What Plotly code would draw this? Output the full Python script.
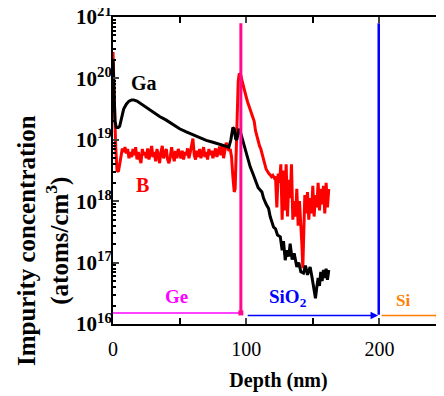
import plotly.graph_objects as go

# ---- data (depth in nm, log10 of concentration in atoms/cm^3) ----
ga_depth = [0, 0.8, 1.5, 2.5, 4, 5, 6, 7, 8, 10, 12, 14, 15.5, 18, 20, 23, 26, 30, 35, 40,
            45, 50, 55, 60, 65, 70, 75, 80, 84, 87, 88.5, 90, 91, 92, 93, 94.5, 96, 98, 100,
            103, 105, 107, 109, 111.8, 113, 115, 116.8, 118, 120.5, 122, 123.5, 125.6, 127,
            128, 129.3, 130.5, 132, 133, 134.5, 136, 138, 139.5, 141, 143, 144.5, 146, 148,
            149.5, 151, 152, 153, 154, 155, 156, 157, 158, 159, 160, 161, 162]
ga_log = [20.3, 19.8, 19.3, 19.2, 19.2, 19.22, 19.3, 19.42, 19.5, 19.58, 19.63, 19.65, 19.65,
          19.63, 19.6, 19.56, 19.51, 19.45, 19.38, 19.32, 19.25, 19.18, 19.13, 19.08, 19.03,
          18.99, 18.96, 18.93, 18.9, 18.88, 19.0, 19.2, 19.18, 19.02, 19.0, 19.18, 19.1, 18.94,
          18.8, 18.56, 18.45, 18.33, 18.22, 18.15, 18.05, 17.95, 17.88, 17.75, 17.58, 17.55,
          17.45, 17.42, 17.2, 17.35, 17.04, 17.2, 17.1, 17.31, 17.05, 17.15, 16.93, 17.0, 16.85,
          16.83, 16.95, 16.8, 16.93, 16.75, 16.55, 16.42, 16.6, 16.75, 16.62, 16.85, 16.7, 16.88,
          16.75, 16.9, 16.72, 16.88]

b_depth = [0, 1, 2, 3, 4, 5, 6, 7, 8, 9, 10, 11, 12, 13, 14, 15, 16, 17, 18, 19, 20, 21, 22,
           23, 24, 25, 26, 27, 28, 29, 30, 31, 32, 33, 34, 35, 36, 37, 38, 39, 40, 41, 42, 43,
           44, 45, 46, 47, 48, 49, 50, 51, 52, 53, 54, 55, 56, 57, 58, 59, 60, 61, 62, 63, 64,
           65, 66, 67, 68, 69, 70, 71, 72, 73, 74, 75, 76, 77, 78, 79, 80, 81, 82, 83, 84, 85,
           86, 87, 88, 89, 90, 91, 91.7, 92.5, 93.2, 94, 94.8, 96, 97, 98, 99, 100, 101, 102,
           103, 104, 105, 106, 107, 108, 109, 110, 111, 112, 113, 114, 115, 116, 117, 118, 119,
           120, 121, 122, 123, 124, 125, 126, 127, 128, 129, 130, 131, 132, 133, 134, 135, 136,
           137, 138, 139, 140, 141, 141.8, 142.5, 143, 144, 145, 146, 147, 148, 149, 150, 151,
           152, 153, 154, 155, 156, 157, 158, 159, 160, 161, 162]
b_log = [20.43, 19.6, 18.9, 18.5, 18.48, 18.6, 18.75, 18.86, 18.8, 18.88, 18.78, 18.85, 18.7,
         18.8, 18.72, 18.85, 18.75, 18.88, 18.68, 18.8, 18.7, 18.62, 18.85, 18.75, 18.8, 18.7,
         18.86, 18.68, 18.78, 18.9, 18.72, 18.8, 18.65, 18.85, 18.75, 18.62, 18.8, 18.9, 18.7,
         18.78, 18.85, 18.68, 18.62, 18.72, 18.88, 18.75, 18.65, 18.82, 18.7, 18.85, 18.78,
         18.7, 18.82, 18.68, 18.8, 18.75, 18.86, 18.7, 18.8, 18.9, 19.02, 18.75, 18.68, 18.82,
         18.72, 18.85, 18.7, 18.78, 18.88, 18.72, 18.8, 18.68, 18.85, 18.75, 18.82, 18.7,
         18.78, 18.86, 18.72, 18.8, 18.89, 18.75, 18.92, 18.7, 18.85, 18.95, 18.89, 18.82,
         18.85, 18.72, 18.4, 18.15, 18.2, 18.9, 19.5, 19.95, 20.08, 20.05, 19.95, 19.88, 19.8,
         19.7, 19.62, 19.55, 19.5, 19.42, 19.36, 19.3, 19.15, 19.05, 18.95, 18.9, 18.85, 18.75,
         18.7, 18.6, 18.52, 18.48, 18.45, 18.43, 18.4, 18.42, 18.38, 18.4, 17.9, 18.45, 18.3,
         18.6, 17.7, 18.5, 17.85, 18.6, 17.75, 18.35, 18.05, 18.6, 17.7, 18.0, 17.75, 18.2,
         17.6, 18.0, 17.7, 17.3, 16.91, 17.5, 18.1, 17.8, 18.15, 17.7, 18.05, 17.8, 18.25,
         17.75, 18.1, 17.9, 18.3, 17.85, 18.2, 17.95, 18.25, 17.8, 18.3, 17.9, 18.2, 17.6]

interface_ge_sio2 = 96
interface_sio2_si = 199.5
layer_bar_log = 16.18
marker_top_log = 20.9

ytick_exp = [16, 17, 18, 19, 20, 21]
xtick_vals = [0, 100, 200]

FONT = "Liberation Serif"
PAGE_OFFSET = 8  # default body margin of the html page


def conc(v):
    return 10.0 ** v


fig = go.Figure()
fig.add_trace(go.Scatter(x=b_depth, y=[conc(v) for v in b_log], mode="lines",
                         line=dict(color="#ff0000", width=3), showlegend=False))
fig.add_trace(go.Scatter(x=ga_depth, y=[conc(v) for v in ga_log], mode="lines",
                         line=dict(color="#000000", width=3), showlegend=False))

# layer boundary lines
fig.add_trace(go.Scatter(x=[interface_ge_sio2, interface_ge_sio2],
                         y=[conc(layer_bar_log), conc(marker_top_log)], mode="lines",
                         line=dict(color="#ff0a8c", width=3), showlegend=False))
fig.add_trace(go.Scatter(x=[interface_sio2_si, interface_sio2_si],
                         y=[conc(16.15), conc(marker_top_log)], mode="lines",
                         line=dict(color="#0000ff", width=2.5), showlegend=False))
# Ge layer bar
fig.add_trace(go.Scatter(x=[0, interface_ge_sio2], y=[conc(layer_bar_log)] * 2,
                         mode="lines", line=dict(color="#ff00ff", width=1.5), showlegend=False))
fig.add_trace(go.Scatter(x=[interface_ge_sio2], y=[conc(layer_bar_log)], mode="markers",
                         marker=dict(color="#ff0a8c", size=5, symbol="square"), showlegend=False))

PLOT_L, PLOT_T, PLOT_W, PLOT_H = 113 - PAGE_OFFSET, 17 - PAGE_OFFSET, 331, 307

annotations = [
    dict(x=interface_sio2_si - 0.5, y=16.14, ax=100, ay=16.14, xref="x", yref="y",
         axref="x", ayref="y", showarrow=True, arrowhead=2, arrowsize=1, arrowwidth=1.5,
         arrowcolor="#0000ff", text=""),
    dict(x=248, y=16.14, ax=200.5, ay=16.14, xref="x", yref="y",
         axref="x", ayref="y", showarrow=True, arrowhead=2, arrowsize=1, arrowwidth=1.5,
         arrowcolor="#ff8000", text=""),
    dict(x=23, y=19.92, text="<b>Ga</b>", showarrow=False, font=dict(size=20, color="black", family=FONT)),
    dict(x=22, y=18.26, text="<b>B</b>", showarrow=False, font=dict(size=20, color="#ff0000", family=FONT)),
    dict(x=47.5, y=16.44, text="<b>Ge</b>", showarrow=False, font=dict(size=19, color="#ff00ff", family=FONT)),
    dict(x=131.5, y=16.42, text="<b>SiO<sub>2</sub></b>", showarrow=False, font=dict(size=19, color="#0000ff", family=FONT)),
    dict(x=218, y=16.38, text="<b>Si</b>", showarrow=False, font=dict(size=17, color="#ff8000", family=FONT)),
    dict(x=(43 - 113) / PLOT_W, y=(324 - 241) / PLOT_H, xref="paper", yref="paper", textangle=-90,
         text="<b>Impurity concentration<br>(atoms/cm<sup>3</sup>)</b>", showarrow=False,
         xanchor="center", yanchor="middle",
         font=dict(size=25, color="black", family=FONT)),
]

minor_vals = [m * conc(e) for e in ytick_exp[:-1] for m in range(2, 10)]

fig.update_layout(
    width=444, height=396,
    margin=dict(l=PLOT_L, r=444 - PLOT_L - PLOT_W, t=PLOT_T, b=396 - PLOT_T - PLOT_H, autoexpand=False),
    paper_bgcolor="white", plot_bgcolor="white",
    font=dict(family=FONT, color="black"),
    annotations=annotations,
    xaxis=dict(range=[0, 248.5], tickvals=xtick_vals, ticks="inside", ticklen=6, tickwidth=2,
               showline=True, linewidth=2, linecolor="black", mirror="ticks",
               showgrid=False, zeroline=False, automargin=False,
               tickfont=dict(size=20, family=FONT), ticklabelstandoff=6,
               tickprefix="<b>", ticksuffix="</b>", ticklabeloverflow="allow",
               minor=dict(tickvals=[50, 150], ticks="inside", ticklen=6, tickwidth=2, tickcolor="black"),
               title=dict(text="<b>Depth (nm)</b>", font=dict(size=20, family=FONT), standoff=14)),
    yaxis=dict(type="log", range=[16, 21], tickvals=[conc(e) for e in ytick_exp],
               ticktext=[f"<b>10<sup>{e}</sup></b>" for e in ytick_exp],
               ticks="inside", ticklen=6, tickwidth=2, ticklabelstandoff=-5,
               showline=True, linewidth=2, linecolor="black", mirror="ticks",
               showgrid=False, zeroline=False, automargin=False, ticklabeloverflow="allow",
               tickfont=dict(size=21, family=FONT),
               minor=dict(tickvals=minor_vals, ticks="inside", ticklen=3, tickwidth=1.5, tickcolor="black")),
)

fig.write_html("out.html")
